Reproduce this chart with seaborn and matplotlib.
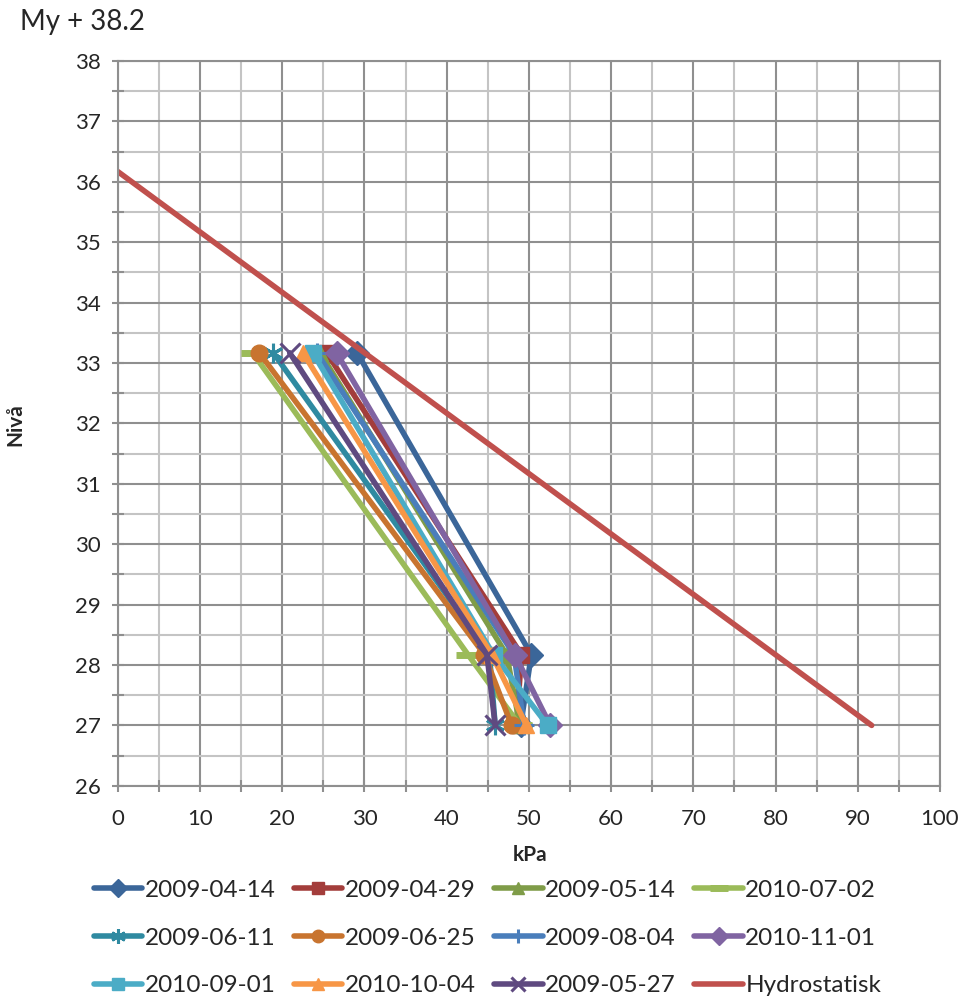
import matplotlib
matplotlib.use("Agg")
import matplotlib.pyplot as plt
import seaborn as sns
import pandas as pd
from matplotlib.ticker import MultipleLocator, AutoMinorLocator

levels = [33.17, 28.17, 27.0]

series_names = ["2009-04-14", "2009-04-29", "2009-05-14", "2010-07-02",
                "2009-06-11", "2009-06-25", "2009-08-04", "2010-11-01",
                "2010-09-01", "2010-10-04", "2009-05-27"]
kpa_values = [
    [29.1, 50.3, 49.0],
    [25.4, 49.1, 48.5],
    [24.6, 47.3, 48.9],
    [16.4, 42.6, 48.9],
    [18.9, 45.2, 45.9],
    [17.2, 44.6, 47.9],
    [24.2, 48.2, 49.4],
    [26.6, 48.3, 52.6],
    [23.7, 45.7, 52.3],
    [22.5, 45.5, 49.7],
    [20.9, 44.9, 45.9],
]
series_colors = ["#3B6699", "#A33D3B", "#7F9C48", "#9BBB59",
                 "#2F8AA1", "#C8742F", "#4A7EBB", "#8064A2",
                 "#4BACC6", "#F79646", "#5F4A80"]
series_markers = ["D", "s", "^", "_", (6, 2, 0), "o", "+", "D",
                  "s", "^", "x"]

hydro_name = "Hydrostatisk"
hydro_kpa = [0.0, 91.7]
hydro_level = [36.17, 27.0]
hydro_color = "#C0504D"

sns.set_style("white")
plt.rcParams["font.family"] = ["Lato", "DejaVu Sans"]

fig = plt.figure(figsize=(9.66, 10.01), dpi=100)
ax = fig.add_axes([0.122, 0.215, 0.851, 0.724])

handles = []
for name, vals, col, mk in zip(series_names, kpa_values, series_colors, series_markers):
    df = pd.DataFrame({"kPa": vals, "Nivå": levels})
    n0 = len(ax.lines)
    ms = 12
    mew = 1.0
    if mk == "_":
        ms, mew = 17, 5
    elif mk in ("+", "x") or isinstance(mk, tuple):
        ms, mew = 14, 2.2
    sns.lineplot(data=df, x="kPa", y="Nivå", sort=False, color=col, linewidth=4.0,
                 marker=mk, markersize=ms, markeredgewidth=mew, markeredgecolor=col,
                 ax=ax, label=name)
    handles.append(ax.lines[n0])

dfh = pd.DataFrame({"kPa": hydro_kpa, "Nivå": hydro_level})
n0 = len(ax.lines)
sns.lineplot(data=dfh, x="kPa", y="Nivå", sort=False, color=hydro_color,
             linewidth=4.0, ax=ax, label=hydro_name)
handles.append(ax.lines[n0])
labels = series_names + [hydro_name]
if ax.get_legend() is not None:
    ax.get_legend().remove()

ax.set_xlim(0, 100)
ax.set_ylim(26, 38)
ax.xaxis.set_major_locator(MultipleLocator(10))
ax.yaxis.set_major_locator(MultipleLocator(1))
ax.xaxis.set_minor_locator(AutoMinorLocator(2))
ax.yaxis.set_minor_locator(AutoMinorLocator(2))
ax.grid(which="major", color="#8F8F8F", linewidth=1.5)
ax.grid(which="minor", color="#C4C4C4", linewidth=1.5)
ax.set_axisbelow(True)
ax.tick_params(which="both", direction="inout", length=9, width=1.5,
               color="#8F8F8F", labelsize=16, bottom=True, left=True)
ax.tick_params(axis="x", pad=12)
ax.tick_params(axis="y", pad=8)
for s in ax.spines.values():
    s.set_color("#8F8F8F")
    s.set_linewidth(1.5)

ax.set_xlabel("kPa", fontsize=15, fontweight="bold")
ax.set_ylabel("Nivå", fontsize=15, fontweight="bold")
ax.xaxis.set_label_coords(0.501, -0.095)
ax.yaxis.set_label_coords(-0.125, 0.498)
ax.xaxis.label.set_va("center")
ax.yaxis.label.set_va("center")
fig.text(0.021, 0.978, "My + 38.2", fontsize=20, ha="left", va="center")

order = [0, 4, 8, 1, 5, 9, 2, 6, 10, 3, 7, 11]
fig.legend([handles[i] for i in order], [labels[i] for i in order],
           loc="upper left", bbox_to_anchor=(0.097, 0.121), ncol=4,
           frameon=False, fontsize=17.5, handlelength=2.0, handletextpad=0.1,
           columnspacing=0.75, labelspacing=1.1, numpoints=1, markerscale=0.75,
           borderpad=0, borderaxespad=0)

fig.savefig("out.png", dpi=100)
